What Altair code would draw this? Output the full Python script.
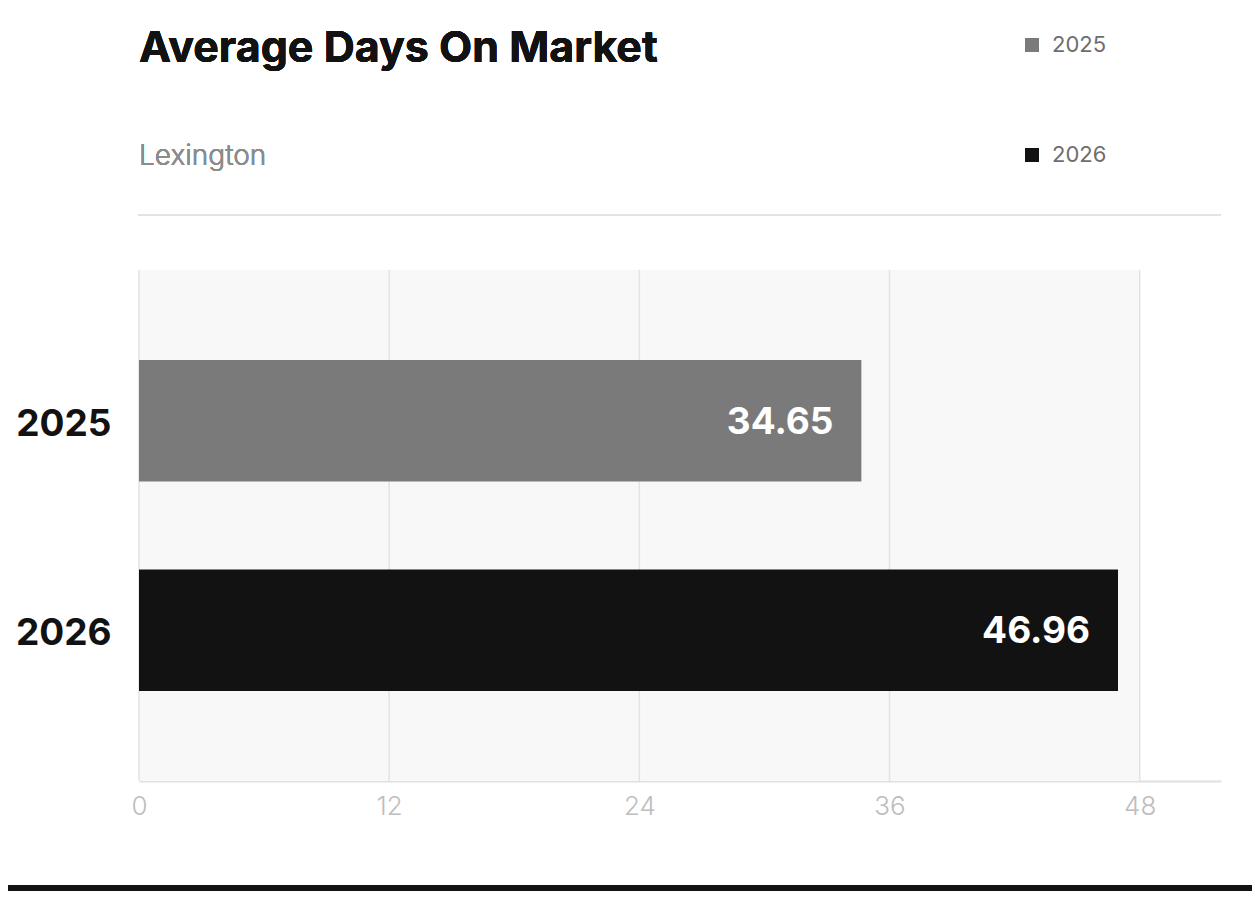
"""
Average Days On Market - horizontal bar chart
"""
import pandas as pd
import altair as alt

# Values
years = ["2025", "2026"]
days = [34.65, 46.96]
bar_colors = ["#7a7a7a", "#121212"]
tick_values = [0, 12, 24, 36, 48]
title_text = "Average Days On Market"
subtitle_text = "Lexington"

FONT = "Inter"
W, H = 1082, 511

bars_df = pd.DataFrame({"year": years, "days": days})
grid_df = pd.DataFrame({"tick": tick_values})

x_scale = alt.Scale(domain=[0, 51.9], nice=False, zero=True)
y_scale = alt.Scale(domain=years, paddingInner=0.42, paddingOuter=0.43)

# Light panel behind the bars, only up to the last tick
panel = alt.Chart(grid_df).mark_rect(color="#f8f8f8").encode(
    x=alt.X(datum=0, scale=x_scale),
    x2=alt.X2(datum=48),
    y=alt.value(0),
    y2=alt.value(H),
)

# Vertical grid lines at the tick values
grid = alt.Chart(grid_df).mark_rule(color="#e3e3e3", strokeWidth=1.5).encode(
    x=alt.X("tick:Q", scale=x_scale),
    y=alt.value(0),
    y2=alt.value(H),
)

# Header: title, subtitle, separator line; dark footer strip
title = alt.Chart(grid_df).mark_text(
    text=title_text, align="left", baseline="alphabetic",
    font=FONT, fontSize=43, fontWeight="bold", color="#121212",
).encode(x=alt.value(0), y=alt.value(-208))
subtitle = alt.Chart(grid_df).mark_text(
    text=subtitle_text, align="left", baseline="alphabetic",
    font=FONT, fontSize=28, fontWeight=300, color="#8c8c8c",
).encode(x=alt.value(0), y=alt.value(-105))
header_rule = alt.Chart(grid_df).mark_rule(color="#e3e3e3", strokeWidth=2).encode(
    x=alt.value(-1), x2=alt.value(W), y=alt.value(-55)
)
footer = alt.Chart(grid_df).mark_rect(color="#121212").encode(
    x=alt.value(-140), x2=alt.value(W + 60), y=alt.value(615), y2=alt.value(640)
)

bars = alt.Chart(bars_df).mark_bar().encode(
    x=alt.X(
        "days:Q",
        scale=x_scale,
        axis=alt.Axis(
            values=tick_values,
            title=None,
            grid=False,
            ticks=False,
            domainColor="#e0e0e0",
            domainWidth=2,
            labelColor="#bdbdbd",
            labelFontSize=26,
            labelFontWeight=300,
            labelFont=FONT,
            labelPadding=12,
            labelFlush=False,
        ),
    ),
    y=alt.Y(
        "year:N",
        scale=y_scale,
        axis=alt.Axis(
            title=None,
            ticks=False,
            domain=False,
            grid=False,
            labelColor="#121212",
            labelFontSize=37,
            labelFontWeight="bold",
            labelFont=FONT,
            labelPadding=28,
            labelOffset=4,
        ),
    ),
    color=alt.Color(
        "year:N",
        scale=alt.Scale(domain=years, range=bar_colors),
        legend=alt.Legend(
            title=None,
            orient="none",
            legendX=882,
            legendY=-236,
            symbolType="square",
            symbolSize=196,
            symbolStrokeWidth=0,
            labelFont=FONT,
            labelFontSize=22,
            labelColor="#6e6e6e",
            labelOffset=9,
            rowPadding=88,
        ),
    ),
)

labels = alt.Chart(bars_df).mark_text(
    align="right", baseline="middle", dx=-28, dy=2, color="white",
    font=FONT, fontSize=37, fontWeight="bold",
).encode(
    x=alt.X("days:Q", scale=x_scale),
    y=alt.Y("year:N", scale=y_scale),
    text=alt.Text("days:Q", format=".2f"),
)

chart = alt.layer(
    panel, grid, header_rule, footer, title, subtitle, bars, labels
).properties(
    width=W,
    height=H,
    autosize=alt.AutoSizeParams(type="none"),
    padding={"left": 131, "top": 262, "right": 31, "bottom": 110},
).configure_view(stroke=None)

chart.save("out.html", embed_options={"renderer": "svg", "actions": False})
